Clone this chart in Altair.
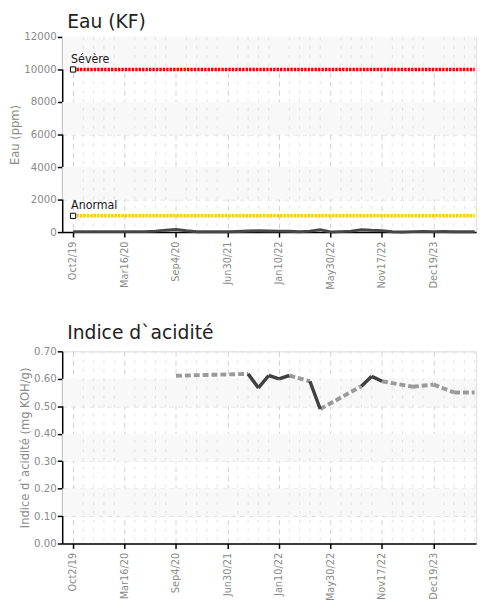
import json
import altair as alt
import pandas as pd

# ---------------- data ----------------
date_labels = ["Oct2/19", "Mar16/20", "Sep4/20", "Jun30/21",
               "Jan10/22", "May30/22", "Nov17/22", "Dec19/23"]
label_step = 5
n_points = 40

water_ppm = [30, 30, 30, 30, 30, 30, 30, 30, 60, 120,
             160, 80, 20, 20, 20, 20, 40, 70, 80, 70,
             60, 50, 20, 60, 150, 10, 30, 60, 150, 110,
             90, 20, 10, 30, 40, 30, 40, 20, 30, 20]

acid_idx = [10, 17, 18, 19, 20, 21, 23, 24, 28, 29, 30, 33, 35, 37, 39]
acid_val = [0.611, 0.618, 0.567, 0.612, 0.600, 0.612, 0.591, 0.490,
            0.573, 0.609, 0.591, 0.571, 0.579, 0.550, 0.550]

threshold_names = ["Sévère", "Anormal"]
threshold_values = [10000, 1000]
threshold_colors = ["#ff0000", "#ffcc00"]

water_bands_lo = [10000, 6000, 2000]
water_band_size = 2000
acid_bands_lo = [0.5, 0.3, 0.1]
acid_band_size = 0.1

panel_titles = ["Eau (KF)", "Indice d`acidité"]

# ---------------- styling ----------------
W = 420
NARROW = "DejaVu Sans Condensed"
TITLE_FONT = "DejaVu Sans"
X_DOMAIN = [-1.053, 39.14]

label_expr = json.dumps(date_labels) + "[round(datum.value/" + str(label_step) + ")]"
major_vals = [i * label_step for i in range(len(date_labels))]

x_axis = alt.Axis(values=major_vals, labelExpr=label_expr, labelAngle=270,
                  labelAlign="right", labelBaseline="middle", labelPadding=4,
                  labelFont=NARROW, labelFontSize=11, labelColor="#8a8a8a",
                  tickColor="#000000", tickSize=5, tickWidth=1.5,
                  domainColor="#000000", domainWidth=1.5,
                  grid=True, gridColor="#d0d0d0", gridDash=[5, 4], gridWidth=1,
                  title=None)


def xenc():
    return alt.X("idx:Q", scale=alt.Scale(domain=X_DOMAIN, nice=False, zero=False),
                 axis=x_axis)


def make_yaxis(title, values, fmt):
    return alt.Axis(values=values, format=fmt, title=title,
                    labelFont=NARROW, labelFontSize=11.5, labelColor="#8a8a8a",
                    labelPadding=1,
                    titleFont=NARROW, titleFontSize=13, titleColor="#8a8a8a",
                    titleFontWeight="normal", titlePadding=2,
                    tickColor="#000000", tickSize=5, tickWidth=1.5,
                    domainColor="#000000", domainWidth=1.5,
                    grid=True, gridColor="#dddddd", gridDash=[5, 4])


minor_df = pd.DataFrame({"idx": [i for i in range(n_points) if i % label_step != 0]})


def base_layers(bands_lo, band_size, yfield_axis, ydomain):
    ysc = alt.Scale(domain=ydomain, nice=False, zero=True)
    bands = pd.DataFrame({"lo": bands_lo, "hi": [b + band_size for b in bands_lo]})
    rect = alt.Chart(bands).mark_rect(color="#f8f8f8").encode(
        x=alt.value(0), x2=alt.value(W),
        y=alt.Y("lo:Q", scale=ysc, axis=yfield_axis), y2="hi:Q")
    minor = alt.Chart(minor_df).mark_rule(color="#e2e2e2", strokeDash=[3, 6],
                                          strokeWidth=1).encode(x=xenc())
    return rect, minor, ysc


def title_layer(text, ypos):
    df = pd.DataFrame({"t": [text]})
    return alt.Chart(df).mark_text(align="left", baseline="top", font=TITLE_FONT,
                                   fontSize=19, color="#222222").encode(
        x=alt.value(5), y=alt.value(ypos), text="t:N")


# ---------------- panel 1: water ----------------
w_axis = make_yaxis("Eau (ppm)", [0, 2000, 4000, 6000, 8000, 10000, 12000], "d")
rect1, minor1, ysc1 = base_layers(water_bands_lo, water_band_size, w_axis, [0, 12000])

water_df = pd.DataFrame({"idx": list(range(n_points)), "v": water_ppm})
water_line = alt.Chart(water_df).mark_line(color="#474747", strokeWidth=3).encode(
    x=xenc(), y=alt.Y("v:Q", scale=ysc1, axis=w_axis))

thr_rows = []
for nm, val in zip(threshold_names, threshold_values):
    for i in (0, n_points - 1):
        thr_rows.append({"name": nm, "idx": i, "v": val})
thr_df = pd.DataFrame(thr_rows)
thr_color = alt.Color("name:N", scale=alt.Scale(domain=threshold_names,
                                                range=threshold_colors), legend=None)
thr_lines = alt.Chart(thr_df).mark_line(strokeWidth=3.5, strokeDash=[2.5, 1]).encode(
    x=xenc(), y=alt.Y("v:Q", scale=ysc1, axis=w_axis), color=thr_color, detail="name:N")

thr_pts_df = pd.DataFrame({"name": threshold_names, "idx": [0] * len(threshold_names),
                           "v": threshold_values})
thr_pts = alt.Chart(thr_pts_df).mark_point(shape="square", filled=True, fill="white",
                                           stroke="black", strokeWidth=1, size=28,
                                           opacity=1).encode(
    x=xenc(), y=alt.Y("v:Q", scale=ysc1, axis=w_axis))
thr_text = alt.Chart(thr_pts_df).mark_text(align="left", baseline="bottom", dx=-2, dy=-4,
                                           font=NARROW, fontSize=12.5, color="#1a1a1a").encode(
    x=xenc(), y=alt.Y("v:Q", scale=ysc1, axis=w_axis), text="name:N")

water_chart = alt.layer(rect1, minor1, thr_lines, water_line, thr_pts, thr_text,
                        title_layer(panel_titles[0], -24)).properties(width=W, height=198)

# ---------------- panel 2: acid ----------------
a_axis = make_yaxis("Indice d`acidité (mg KOH/g)",
                    [0.0, 0.1, 0.2, 0.3, 0.4, 0.5, 0.6, 0.7], ".2f")
rect2, minor2, ysc2 = base_layers(acid_bands_lo, acid_band_size, a_axis, [0, 0.7])

seg_rows = []
for k in range(len(acid_idx) - 1):
    style = "solid" if acid_idx[k + 1] - acid_idx[k] == 1 else "dashed"
    for j in (k, k + 1):
        seg_rows.append({"seg": k, "style": style, "idx": acid_idx[j], "v": acid_val[j]})
seg_df = pd.DataFrame(seg_rows)

dashed = alt.Chart(seg_df).transform_filter(alt.datum.style == "dashed").mark_line(
    color="#9a9a9a", strokeWidth=4, strokeDash=[6, 3]).encode(
    x=xenc(), y=alt.Y("v:Q", scale=ysc2, axis=a_axis), detail="seg:N")
solid = alt.Chart(seg_df).transform_filter(alt.datum.style == "solid").mark_line(
    color="#404040", strokeWidth=3.5, strokeJoin="miter").encode(
    x=xenc(), y=alt.Y("v:Q", scale=ysc2, axis=a_axis), detail="seg:N")

acid_chart = alt.layer(rect2, minor2, dashed, solid,
                       title_layer(panel_titles[1], -28)).properties(width=W, height=195)

chart = alt.vconcat(water_chart, acid_chart, spacing=33).properties(
    padding={"left": 0, "top": 0, "right": 0, "bottom": 0}
).configure_view(stroke=None).configure(background="white")

chart.save("out.html", embed_options={"renderer": "svg", "actions": False})
